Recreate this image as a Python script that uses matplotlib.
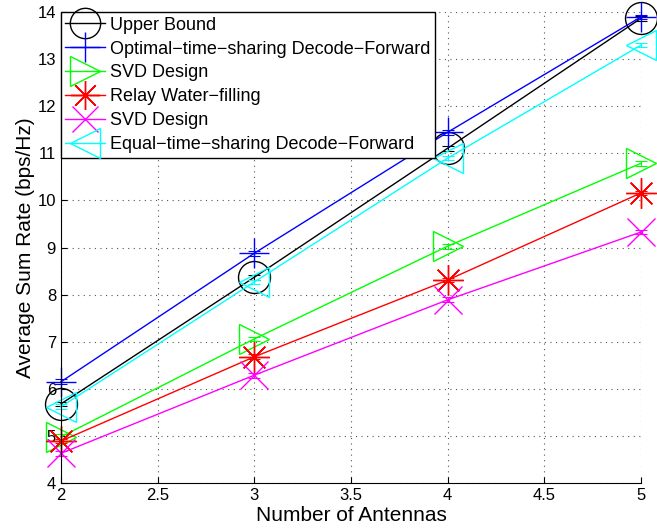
import matplotlib.pyplot as plt

plt.rcParams['font.family'] = ['Liberation Sans', 'DejaVu Sans']

antennas = [2, 3, 4, 5]
upper_bound = [5.68, 8.37, 11.11, 13.87]
optimal_df = [6.15, 8.88, 11.45, 13.9]
svd_green = [4.98, 7.06, 9.03, 10.79]
relay_wf = [4.89, 6.68, 8.31, 10.16]
svd_magenta = [4.63, 6.29, 7.89, 9.33]
equal_df = [5.62, 8.27, 10.9, 13.3]
err = [0.05, 0.05, 0.05, 0.05]

labels = ['Upper Bound', 'Optimal\u2212time\u2212sharing Decode\u2212Forward', 'SVD Design',
          'Relay Water\u2212filling', 'SVD Design', 'Equal\u2212time\u2212sharing Decode\u2212Forward']
series = [upper_bound, optimal_df, svd_green, relay_wf, svd_magenta, equal_df]
colors = ['black', 'blue', '#00ff00', 'red', 'magenta', 'cyan']
markers = ['o', '+', '>', (8, 2, 0), 'x', '<']
sizes = [23, 22, 22, 22, 20, 22]

fig = plt.figure(figsize=(6.57, 5.29), dpi=100)
ax = fig.add_axes([0.0928, 0.087, 0.8829, 0.890])

handles = []
for ys, c, m, s, lab in zip(series, colors, markers, sizes, labels):
    ax.errorbar(antennas, ys, yerr=err, fmt='none', ecolor=c, elinewidth=0.8,
                capsize=4, capthick=0.8, clip_on=False)
    h, = ax.plot(antennas, ys, color=c, marker=m, markersize=s, markerfacecolor='none',
                 markeredgecolor=c, markeredgewidth=1.0, linewidth=1.0, label=lab,
                 clip_on=False)
    handles.append(h)

ax.set_xlim(2, 5)
ax.set_ylim(4, 14)
ax.set_xticks([2, 2.5, 3, 3.5, 4, 4.5, 5])
ax.set_xticklabels(['2', '2.5', '3', '3.5', '4', '4.5', '5'])
ax.set_yticks(range(4, 15))
ax.tick_params(direction='in', labelsize=12, length=4, top=False, right=False)
ax.grid(True, linestyle=(0, (1, 4)), color='#555555', linewidth=0.8)
ax.spines['top'].set_visible(False)
ax.spines['right'].set_visible(False)
ax.set_xlabel('Number of Antennas', fontsize=15, labelpad=2)
ax.set_ylabel('Average Sum Rate (bps/Hz)', fontsize=15, labelpad=2)

leg = ax.legend(handles=handles, loc='upper left', fontsize=13, frameon=True, fancybox=False,
                edgecolor='black', framealpha=1, borderaxespad=0, handlelength=2.2,
                handletextpad=0.25, labelspacing=0.38, borderpad=0.25, markerscale=0.95)
leg.get_frame().set_linewidth(1.0)

fig.savefig('out.png', dpi=100)
